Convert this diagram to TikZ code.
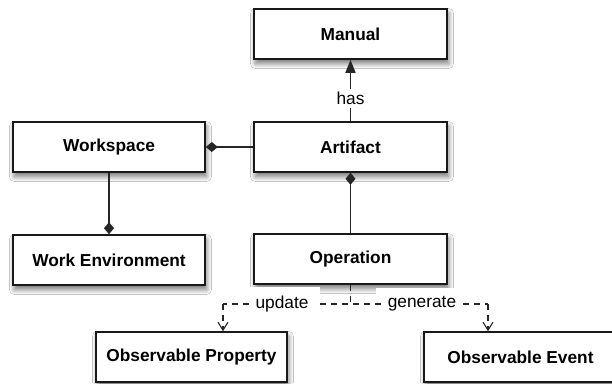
\documentclass[tikz,border=0pt]{standalone}
\usepackage{fontspec}
\setmainfont{Liberation Sans}
\usetikzlibrary{arrows.meta,shadows.blur}
\tikzset{
  umlbox/.style={draw=black!90, line width=1.6pt, fill=white, minimum width=193pt, minimum height=50pt,
    font=\fontsize{17.3}{20}\selectfont\bfseries, inner sep=0pt,
    blur shadow={shadow xshift=1.5pt, shadow yshift=-4.5pt, shadow blur radius=5pt, shadow blur steps=10, shadow opacity=55}},
  conn/.style={line width=1.3pt, draw=black!85},
  comp/.style={conn, {Diamond[length=12pt,width=10pt]}-},
  assoc/.style={conn, -{Triangle[length=13pt,width=10pt]}},
  dep/.style={line width=1.1pt, draw=black!85, dash pattern=on 6pt off 5pt},
  deparrow/.style={dep, -{Straight Barb[length=8pt,width=10pt,line width=1.1pt]}},
  lbl/.style={fill=white, font=\fontsize{17.3}{20}\selectfont, inner sep=3pt},
  lblmask/.style={fill=white, draw=none, font=\fontsize{17.3}{20}\selectfont, inner xsep=12pt, inner ysep=9pt},
  deplbl/.style={fill=white, font=\fontsize{17.3}{20}\selectfont, inner xsep=7pt, inner ysep=2pt}
}
\begin{document}
\begin{tikzpicture}[x=1pt,y=-1pt]
\useasboundingbox (0,0) rectangle (612,383);
\clip (0,0) rectangle (612,383);
\fill[white] (0,0) rectangle (612,383);
\node[umlbox] (manual) at (350.5,34) {Manual};
\node[umlbox] (artifact) at (350.5,147) {Artifact};
\node[umlbox] (operation) at (350.5,259) {Operation};
\node[umlbox, minimum width=192pt] (workspace) at (109,147) {Workspace};
\node[umlbox, minimum width=192pt] (workenv) at (109,260) {Work Environment};
\node[umlbox, minimum width=191pt] (oprop) at (191.5,357) {Observable Property};
\node[umlbox] (oevent) at (520.5,357) {Observable Event};
% associations
\draw[assoc] (artifact.north) -- node[lbl, pos=0.37] (has) {has} (manual.south);
\draw[comp] (workspace.east) -- (artifact.west);
\draw[comp] (workenv.north) -- (workspace.south);
\draw[comp] (artifact.south) -- (operation.north);
% dependencies
\coordinate (jp) at (223,304);
\coordinate (je) at (488,304);
\node[lblmask, text=white] (updmask) at (282,304) {update};
\node[lblmask, text=white] (genmask) at (422,304) {generate};
\draw[dep] (operation.south) |- (jp);
\draw[dep] (operation.south) |- (je);
\node[deplbl] (update) at (updmask) {update};
\node[deplbl] (generate) at (genmask) {generate};
\draw[deparrow] (jp) -- (jp |- oprop.north);
\draw[deparrow] (je) -- (je |- oevent.north);
\end{tikzpicture}
\end{document}
